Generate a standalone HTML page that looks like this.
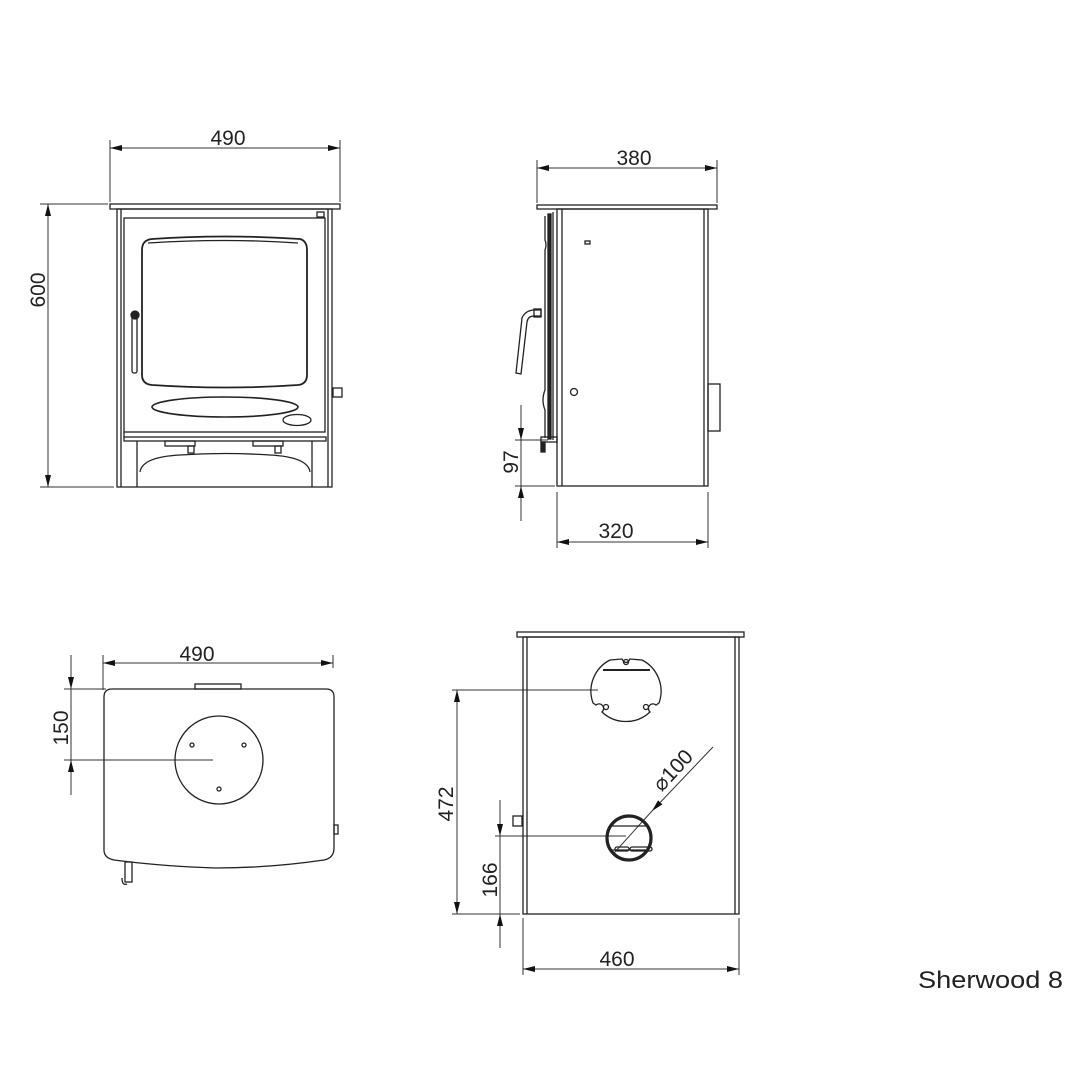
<!DOCTYPE html>
<html><head><meta charset="utf-8"><style>
html,body{margin:0;padding:0;background:#fff}
svg{display:block}
text{font-family:"Liberation Sans",sans-serif;fill:#222}
</style></head><body>
<svg width="1080" height="1080" viewBox="0 0 1080 1080" xmlns="http://www.w3.org/2000/svg">
<defs>
<marker id="a" viewBox="0 0 12 6" refX="12" refY="3" markerWidth="12" markerHeight="6" markerUnits="userSpaceOnUse" orient="auto-start-reverse"><path d="M0,0 L12,3 L0,6z" fill="#111"/></marker>
</defs>
<g fill="none" stroke="#333" stroke-width="1">
<!-- FRONT VIEW dims -->
<line x1="110" y1="140" x2="110" y2="202"/><line x1="340" y1="140" x2="340" y2="202"/>
<line x1="110" y1="148" x2="340" y2="148" marker-start="url(#a)" marker-end="url(#a)"/>
<line x1="40" y1="204" x2="108" y2="204"/><line x1="40" y1="487" x2="114" y2="487"/>
<line x1="48" y1="204" x2="48" y2="487" marker-start="url(#a)" marker-end="url(#a)"/>
</g>
<g fill="none" stroke="#222" stroke-width="1.3">
<rect x="110" y="204" width="230" height="5"/>
<rect x="117" y="209" width="215" height="278"/>
<line x1="121" y1="209" x2="121" y2="487"/><line x1="328" y1="209" x2="328" y2="487"/>
<rect x="124" y="218" width="201" height="214"/>
<rect x="317" y="212" width="7" height="5"/>
<path d="M152,239 Q226,234 300,239 Q307,241 307,250 L307,375 Q307,384 298,385 Q226,390 152,385 Q142,384 142,375 L142,250 Q142,240 152,239z" stroke-width="1.8"/>
<path d="M148,243 Q226,238 298,243" />
<rect x="132" y="315" width="5" height="58" rx="2"/>
<circle cx="135" cy="315" r="4" fill="#222"/>
<ellipse cx="225" cy="407" rx="73" ry="10" stroke-width="1.6"/>
<ellipse cx="297" cy="420" rx="14" ry="5.5"/>
<rect x="124" y="437" width="202" height="4"/>
<line x1="124" y1="432" x2="124" y2="437"/>
<line x1="137" y1="441" x2="137" y2="487"/><line x1="312" y1="441" x2="312" y2="487"/>
<path d="M140,472 Q142,457 180,455 Q225,452 270,455 Q308,457 310,472"/>
<rect x="165" y="441" width="30" height="5"/><rect x="188" y="446" width="6" height="7"/>
<rect x="253" y="441" width="30" height="5"/><rect x="275" y="446" width="6" height="7"/>
<rect x="333" y="388" width="9" height="9"/>
</g>
<!-- SIDE VIEW -->
<g fill="none" stroke="#333" stroke-width="1">
<line x1="537" y1="160" x2="537" y2="203"/><line x1="717" y1="160" x2="717" y2="203"/>
<line x1="537" y1="168" x2="717" y2="168" marker-start="url(#a)" marker-end="url(#a)"/>
<line x1="515" y1="440" x2="548" y2="440"/><line x1="515" y1="486" x2="555" y2="486"/>
<line x1="521" y1="405" x2="521" y2="440" marker-end="url(#a)"/>
<line x1="521" y1="521" x2="521" y2="486" marker-end="url(#a)"/>
<line x1="521" y1="440" x2="521" y2="486"/>
<line x1="557" y1="492" x2="557" y2="548"/><line x1="708" y1="492" x2="708" y2="548"/>
<line x1="557" y1="542" x2="708" y2="542" marker-start="url(#a)" marker-end="url(#a)"/>
</g>
<g fill="none" stroke="#222" stroke-width="1.3">
<rect x="537" y="205" width="180" height="4"/>
<rect x="557" y="209" width="151" height="277"/>
<line x1="562" y1="209" x2="562" y2="486"/>
<line x1="704" y1="209" x2="704" y2="486"/>
<rect x="548" y="214" width="3" height="225" fill="#222"/>
<line x1="553" y1="212" x2="553" y2="440"/>
<path d="M545,216 L545,240 Q547,245 545,250 L545,390 Q541,400 545,410 L545,438"/>
<rect x="541" y="437" width="16" height="5"/>
<rect x="541" y="442" width="4" height="10" fill="#222"/>
<rect x="585" y="241" width="5" height="3"/>
<circle cx="574" cy="392" r="3.5"/>
<rect x="708" y="384" width="12" height="47"/>
<path d="M541,310 L533,310 Q525,311 522,318 L516,373 L521,374 L527,322 Q528,316 534,316 L541,316z"/>
<rect x="534" y="309" width="7" height="8"/>
</g>
<!-- TOP VIEW -->
<g fill="none" stroke="#333" stroke-width="1">
<line x1="103" y1="655" x2="103" y2="690"/><line x1="333" y1="655" x2="333" y2="668"/>
<line x1="103" y1="663" x2="333" y2="663" marker-start="url(#a)" marker-end="url(#a)"/>
<line x1="64" y1="689" x2="106" y2="689"/><line x1="64" y1="760" x2="213" y2="760"/>
<line x1="71" y1="655" x2="71" y2="689" marker-end="url(#a)"/>
<line x1="71" y1="795" x2="71" y2="760" marker-end="url(#a)"/>
<line x1="71" y1="689" x2="71" y2="760"/>
</g>
<g fill="none" stroke="#222" stroke-width="1.3">
<rect x="195" y="684" width="46" height="5"/>
<path d="M112,689 L326,689 Q334,689 334,697 L334,848 Q334,858 324,860 Q270,868 215,868 Q160,866 114,860 Q104,858 104,850 L104,697 Q104,689 112,689z"/>
<circle cx="219" cy="760" r="44"/>
<circle cx="192" cy="745" r="2"/><circle cx="244" cy="745" r="2"/><circle cx="219" cy="789" r="2"/>
<rect x="334" y="825" width="4" height="9"/>
<rect x="125" y="862" width="7" height="20"/>
<path d="M122,878 Q122,886 127,884"/>
</g>
<!-- BACK VIEW -->
<g fill="none" stroke="#333" stroke-width="1">
<line x1="452" y1="690" x2="598" y2="690"/><line x1="452" y1="914" x2="520" y2="914"/>
<line x1="457" y1="690" x2="457" y2="914" marker-start="url(#a)" marker-end="url(#a)"/>
<line x1="495" y1="836" x2="626" y2="836"/>
<line x1="500" y1="800" x2="500" y2="836" marker-end="url(#a)"/>
<line x1="500" y1="948" x2="500" y2="914" marker-end="url(#a)"/>
<line x1="500" y1="836" x2="500" y2="914"/>
<line x1="523" y1="918" x2="523" y2="975"/><line x1="739" y1="918" x2="739" y2="975"/>
<line x1="523" y1="969" x2="739" y2="969" marker-start="url(#a)" marker-end="url(#a)"/>
<line x1="713" y1="747" x2="652" y2="811" marker-end="url(#a)"/>
<line x1="652" y1="811" x2="614" y2="853"/>
</g>
<g fill="none" stroke="#222" stroke-width="1.3">
<rect x="517" y="632" width="227" height="5"/>
<rect x="523" y="637" width="216" height="277"/>
<line x1="527" y1="637" x2="527" y2="914"/><line x1="735" y1="637" x2="735" y2="914"/>
<path d="M610,660 L622,659 Q626,666 630,659 L642,660 A35,35 0 0 1 659,703 L656,705 A4,4 0 0 0 650,712 A35,35 0 0 1 602,712 A4,4 0 0 0 596,705 L593,703 A35,35 0 0 1 610,660z"/>
<line x1="603" y1="670" x2="650" y2="670" stroke-width="2"/>
<circle cx="626" cy="662" r="2.5"/><circle cx="606" cy="707" r="2.5"/><circle cx="646" cy="707" r="2.5"/>
<circle cx="629" cy="838" r="22" stroke-width="3.2"/>
<line x1="612" y1="826" x2="646" y2="826"/><line x1="612" y1="850" x2="646" y2="850"/>
<rect x="615" y="847" width="14" height="4" rx="2"/><rect x="630" y="847" width="22" height="4" rx="2"/>
<rect x="513" y="816" width="9" height="10"/>
</g>
<!-- Text -->
<g font-size="21">
<text x="228" y="145" text-anchor="middle">490</text>
<text x="634" y="165" text-anchor="middle">380</text>
<text x="616" y="538" text-anchor="middle">320</text>
<text x="197" y="661" text-anchor="middle">490</text>
<text x="617" y="966" text-anchor="middle">460</text>
<text transform="translate(45,290) rotate(-90)" text-anchor="middle">600</text>
<text transform="translate(518,462) rotate(-90)" text-anchor="middle">97</text>
<text transform="translate(68,728) rotate(-90)" text-anchor="middle">150</text>
<text transform="translate(453,804) rotate(-90)" text-anchor="middle">472</text>
<text transform="translate(497,880) rotate(-90)" text-anchor="middle">166</text>
<text transform="translate(678,775) rotate(-47)" text-anchor="middle">⌀100</text>
</g>
<text x="918" y="988" font-size="24" textLength="145" lengthAdjust="spacingAndGlyphs">Sherwood 8</text>
</svg>
</body></html>
